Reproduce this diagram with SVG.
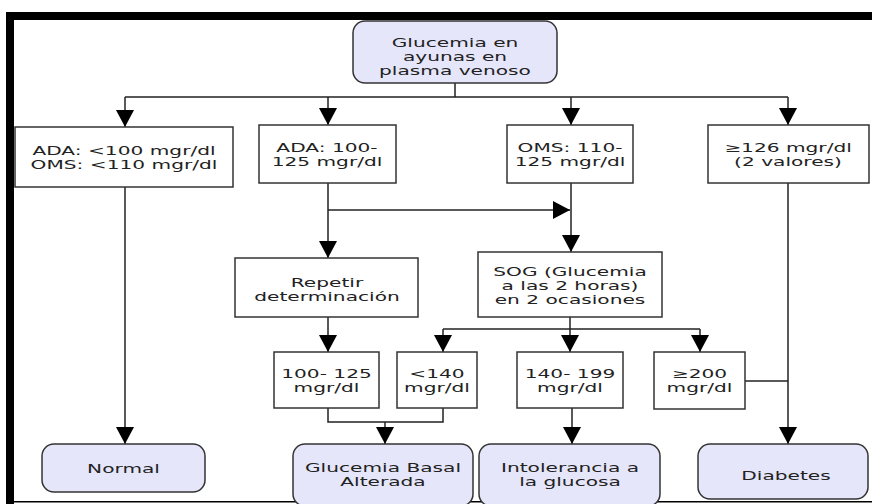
<svg xmlns="http://www.w3.org/2000/svg" width="872" height="504" viewBox="0 0 872 504">
<style>
.t{font-family:"DejaVu Sans",Verdana,sans-serif;font-size:12px;fill:#222;text-anchor:middle}
.box{fill:#fff;stroke:#333;stroke-width:1.5}
.rbox{fill:#e6e6fa;stroke:#333;stroke-width:1.5}
.c{fill:none;stroke:#222;stroke-width:1.5}
</style>
<defs>
<marker id="ah" markerUnits="userSpaceOnUse" markerWidth="18" markerHeight="20" refX="17" refY="9" orient="auto">
<path d="M0,0 L17,9 L0,18 z" fill="#000"/>
</marker>
</defs>
<rect width="872" height="504" fill="#fff"/>
<g id="frame">
<rect x="6" y="12" width="866" height="8" fill="#000"/>
<rect x="6" y="12" width="8" height="492" fill="#000"/>
<rect x="6" y="501" width="866" height="1.5" fill="#000"/>
</g>
<g id="connectors">
<path class="c" d="M455,83 V97 M125,97 H788"/>
<path class="c" d="M125,97 V127" marker-end="url(#ah)"/>
<path class="c" d="M328,97 V125" marker-end="url(#ah)"/>
<path class="c" d="M571,97 V125" marker-end="url(#ah)"/>
<path class="c" d="M788,97 V125" marker-end="url(#ah)"/>
<path class="c" d="M125,187 V444" marker-end="url(#ah)"/>
<path class="c" d="M328,183 V258" marker-end="url(#ah)"/>
<path class="c" d="M328,210 H570" marker-end="url(#ah)"/>
<path class="c" d="M571,183 V252" marker-end="url(#ah)"/>
<path class="c" d="M328,317 V352" marker-end="url(#ah)"/>
<path class="c" d="M570,317 V352" marker-end="url(#ah)"/>
<path class="c" d="M443,329 H700"/>
<path class="c" d="M443,329 V352" marker-end="url(#ah)"/>
<path class="c" d="M700,329 V352" marker-end="url(#ah)"/>
<path class="c" d="M788,183 V444" marker-end="url(#ah)"/>
<path class="c" d="M745,381 H788"/>
<path class="c" d="M328,408 V422 H443 V408"/>
<path class="c" d="M385,422 V444" marker-end="url(#ah)"/>
<path class="c" d="M572,408 V444" marker-end="url(#ah)"/>
</g>
<g id="n_top">
<rect class="rbox" x="353" y="21" width="204" height="62" rx="12"/>
<text class="t" transform="translate(455,0) scale(1.68,1)"><tspan x="0" y="47">Glucemia en</tspan><tspan x="0" y="61">ayunas en</tspan><tspan x="0" y="75">plasma venoso</tspan></text>
</g>
<g id="n_normal_range">
<rect class="box" x="15" y="127" width="218" height="60"/>
<text class="t" transform="translate(124,0) scale(1.68,1)"><tspan x="0" y="155">ADA: &lt;100 mgr/dl</tspan><tspan x="0" y="169">OMS: &lt;110 mgr/dl</tspan></text>
</g>
<g id="n_ada">
<rect class="box" x="259" y="125" width="137" height="58"/>
<text class="t" transform="translate(327,0) scale(1.68,1)"><tspan x="0" y="152">ADA: 100-</tspan><tspan x="0" y="166">125 mgr/dl</tspan></text>
</g>
<g id="n_oms">
<rect class="box" x="507" y="125" width="126" height="58"/>
<text class="t" transform="translate(570,0) scale(1.68,1)"><tspan x="0" y="152">OMS: 110-</tspan><tspan x="0" y="166">125 mgr/dl</tspan></text>
</g>
<g id="n_126">
<rect class="box" x="708" y="125" width="161" height="58"/>
<text class="t" transform="translate(788,0) scale(1.68,1)"><tspan x="0" y="152">≥126 mgr/dl</tspan><tspan x="0" y="166">(2 valores)</tspan></text>
</g>
<g id="n_repetir">
<rect class="box" x="235" y="258" width="183" height="59"/>
<text class="t" transform="translate(327,0) scale(1.68,1)"><tspan x="0" y="287">Repetir</tspan><tspan x="0" y="301">determinación</tspan></text>
</g>
<g id="n_sog">
<rect class="box" x="478" y="252" width="184" height="65"/>
<text class="t" transform="translate(570,0) scale(1.68,1)"><tspan x="0" y="276">SOG (Glucemia</tspan><tspan x="0" y="290">a las 2 horas)</tspan><tspan x="0" y="304">en 2 ocasiones</tspan></text>
</g>
<g id="n_100_125">
<rect class="box" x="274" y="352" width="105" height="56"/>
<text class="t" transform="translate(326.5,0) scale(1.68,1)"><tspan x="0" y="378">100- 125</tspan><tspan x="0" y="392">mgr/dl</tspan></text>
</g>
<g id="n_140">
<rect class="box" x="397" y="352" width="80" height="56"/>
<text class="t" transform="translate(437,0) scale(1.68,1)"><tspan x="0" y="378">&lt;140</tspan><tspan x="0" y="392">mgr/dl</tspan></text>
</g>
<g id="n_140_199">
<rect class="box" x="517" y="352" width="106" height="56"/>
<text class="t" transform="translate(570,0) scale(1.68,1)"><tspan x="0" y="378">140- 199</tspan><tspan x="0" y="392">mgr/dl</tspan></text>
</g>
<g id="n_200">
<rect class="box" x="654" y="352" width="91" height="57"/>
<text class="t" transform="translate(699.5,0) scale(1.68,1)"><tspan x="0" y="378">≥200</tspan><tspan x="0" y="392">mgr/dl</tspan></text>
</g>
<g id="n_normal">
<rect class="rbox" x="42" y="444" width="163" height="48" rx="12"/>
<text class="t" transform="translate(123.5,0) scale(1.68,1)"><tspan x="0" y="473">Normal</tspan></text>
</g>
<g id="n_gba">
<rect class="rbox" x="293" y="444" width="180" height="62" rx="12"/>
<text class="t" transform="translate(383,0) scale(1.68,1)"><tspan x="0" y="472">Glucemia Basal</tspan><tspan x="0" y="486">Alterada</tspan></text>
</g>
<g id="n_intol">
<rect class="rbox" x="479" y="444" width="181" height="62" rx="12"/>
<text class="t" transform="translate(570,0) scale(1.68,1)"><tspan x="0" y="472">Intolerancia a</tspan><tspan x="0" y="486">la glucosa</tspan></text>
</g>
<g id="n_diabetes">
<rect class="rbox" x="698" y="444" width="170" height="55" rx="12"/>
<text class="t" transform="translate(786,0) scale(1.68,1)"><tspan x="0" y="480">Diabetes</tspan></text>
</g>
</svg>
